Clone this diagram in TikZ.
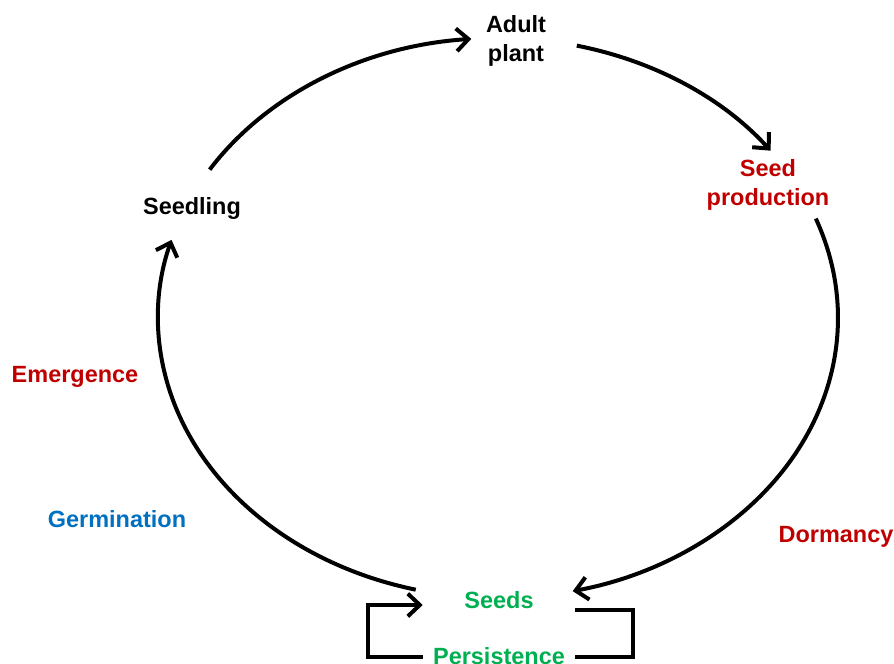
\documentclass[tikz,border=0pt]{standalone}
\usepackage{fontspec}
\setmainfont{Liberation Sans}
\usetikzlibrary{arrows.meta,calc}
\definecolor{stagered}{RGB}{192,0,0}
\definecolor{stageblue}{RGB}{0,112,192}
\definecolor{stagegreen}{RGB}{0,176,80}
\begin{document}
\begin{tikzpicture}[x=0.75pt,y=0.75pt,
  lbl/.style={font=\fontsize{17.6}{21.5}\selectfont\bfseries, align=center, inner sep=0pt},
  tip/.style={-{Straight Barb[length=9pt,width=17pt]}},
  cyc/.style={line width=3pt, tip},
  loopline/.style={line width=3pt}]
\useasboundingbox (0,0) rectangle (894,-664);
% centre of the life-cycle ellipse
\coordinate (c) at (498,-318);

% stages and processes
\node[lbl] (adult) at (516,-41) {Adult\\plant};
\node[lbl,text=stagered] (seedprod) at (768,-185) {Seed\\production};
\node[lbl] (seedling) at (192,-208) {Seedling};
\node[lbl,text=stagered] (emergence) at (75,-377) {Emergence};
\node[lbl,text=stageblue] (germ) at (117,-519) {Germination};
\node[lbl,text=stagered] (dorm) at (836,-537) {Dormancy};
\node[lbl,text=stagegreen,minimum width=114pt] (seeds) at (499,-600) {Seeds};
\node[lbl,text=stagegreen,minimum width=114pt] (persist) at (499,-656) {Persistence};

% arc end points on the ellipse
\coordinate (a1) at ($(c)+(148:340 and 280)$);
\coordinate (a2) at ($(c)+(76.6:340 and 280)$);
\coordinate (a3) at ($(c)+(20.8:340 and 280)$);
\coordinate (a4) at ($(c)+(256:340 and 280)$);

% seedling -> adult plant
\draw[cyc] (a1) arc[start angle=148,end angle=94.5,x radius=340,y radius=280];
% adult plant -> seed production
\draw[cyc] (a2) arc[start angle=76.6,end angle=36.7,x radius=340,y radius=280];
% seed production -> seeds
\draw[cyc] (a3) arc[start angle=20.8,end angle=-77.3,x radius=340,y radius=280];
% seeds -> seedling
\draw[cyc] (a4) arc[start angle=256,end angle=163.8,x radius=340,y radius=280];

% persistence loop in the seed bank
\draw[loopline,tip] (persist.west) ++(0,-1) -- ++(-55,0) |- ($(seeds.west)+(0,-5)$);
\draw[loopline] ($(seeds.east)+(0,-10)$) -- ++(58,0) |- ($(persist.east)+(0,-1)$);
\end{tikzpicture}
\end{document}
